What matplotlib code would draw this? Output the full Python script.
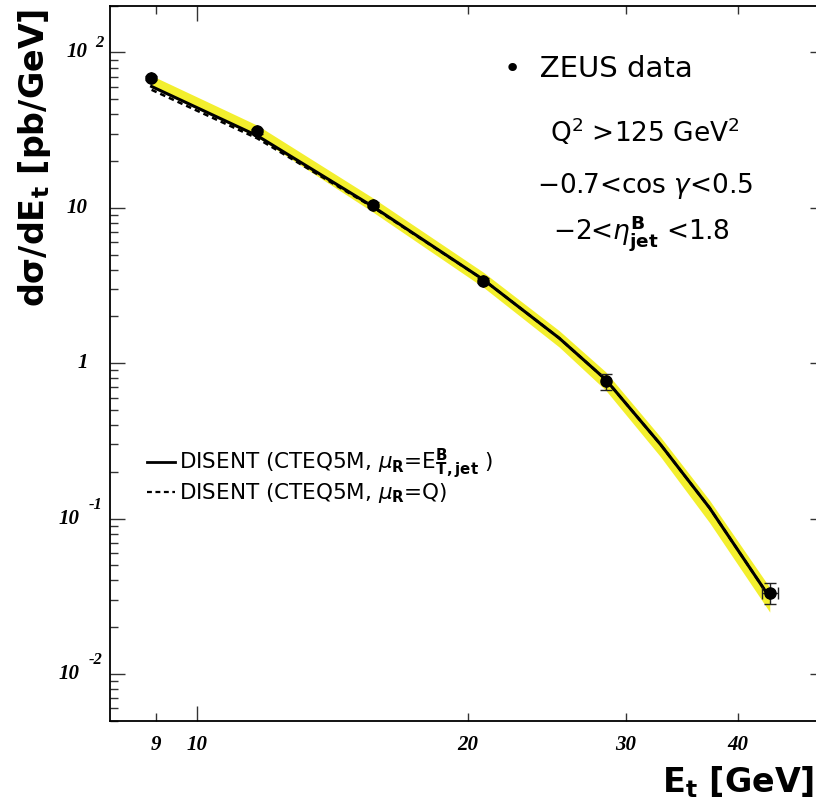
import numpy as np
import matplotlib
matplotlib.use("Agg")
import matplotlib.pyplot as plt
from matplotlib.ticker import FixedLocator, NullFormatter, FixedFormatter

# ---------------- data ----------------
et_data = [8.89, 11.67, 15.69, 20.83, 28.5, 43.4]
xsec_data = [68.8, 31.0, 10.5, 3.39, 0.766, 0.0333]
err_lo = [2.0, 1.0, 0.35, 0.12, 0.09, 0.0052]
err_hi = [2.0, 1.0, 0.35, 0.12, 0.09, 0.0054]
xerr_data = [0.0, 0.0, 0.0, 0.0, 0.0, 0.9]

theory_et = [8.9, 11.67, 15.69, 20.83, 25.3, 28.5, 32.8, 37.2, 43.4]
disent_etjet = [60.4, 29.1, 10.2, 3.45, 1.45, 0.785, 0.30, 0.117, 0.031]
disent_q = [57.5, 28.0, 10.1, 3.45, 1.45, 0.785, 0.30, 0.117, 0.031]
band_lo = [59.5, 28.5, 9.4, 3.08, 1.27, 0.67, 0.25, 0.094, 0.025]
band_hi = [71.0, 34.0, 11.6, 3.85, 1.62, 0.88, 0.335, 0.131, 0.036]

x_major = [10]
x_minor = [9, 20, 30, 40]
y_major = [0.01, 0.1, 1, 10, 100]
y_major_labels = [("10", "-2"), ("10", "-1"), ("1", ""), ("10", ""), ("10", "2")]

W, H = 816, 807
PT = 72 / 100  # points per pixel
fig = plt.figure(figsize=(W / 100, H / 100), dpi=100)
ax_l, ax_r, ax_t, ax_b = 110, 825, 5.7, 720.7
ax = fig.add_axes([ax_l / W, 1 - ax_b / H, (ax_r - ax_l) / W, (ax_b - ax_t) / H])
ax.set_xscale("log")
ax.set_yscale("log")
ax.set_xlim(8.0, 50.0)
ax.set_ylim(0.005, 200)

yellow = "#f3ef2e"
ax.fill_between(theory_et, band_lo, band_hi, color=yellow, lw=0, zorder=1)
ax.plot(theory_et, disent_q, color="black", lw=1.8, ls=(0, (2.2, 1.6)), zorder=2)
ax.plot(theory_et, disent_etjet, color="black", lw=2.2, zorder=3)
ax.errorbar(et_data, xsec_data, yerr=[err_lo, err_hi], xerr=xerr_data, fmt="o",
            color="black", ms=8, ecolor="#222222", elinewidth=1.0, capsize=4,
            capthick=1.0, zorder=4)

# ticks
ax.xaxis.set_major_locator(FixedLocator(x_major))
ax.xaxis.set_minor_locator(FixedLocator(x_minor))
ax.xaxis.set_major_formatter(FixedFormatter([str(v) for v in x_major]))
ax.xaxis.set_minor_formatter(FixedFormatter([str(v) for v in x_minor]))
ax.yaxis.set_major_locator(FixedLocator(y_major))
ax.yaxis.set_minor_locator(matplotlib.ticker.LogLocator(base=10, subs=np.arange(2, 10)))
ax.yaxis.set_major_formatter(NullFormatter())
ax.yaxis.set_minor_formatter(NullFormatter())
for axis in ("x", "y"):
    ax.tick_params(axis=axis, which="major", direction="in", length=15 * PT, width=1.0,
                   color="#333333", top=True, right=True)
    ax.tick_params(axis=axis, which="minor", direction="in", length=8 * PT, width=1.0,
                   color="#333333", top=True, right=True)
tick_font = dict(family="Liberation Serif", weight="bold", style="italic", size=15)
ax.tick_params(axis="x", which="both", pad=10)
for lbl in ax.get_xticklabels(which="both"):
    lbl.set_fontproperties(matplotlib.font_manager.FontProperties(**tick_font))

# y tick labels drawn as base + exponent
trans = matplotlib.transforms.blended_transform_factory(fig.transFigure, ax.transData)
for val, (base, expo) in zip(y_major, y_major_labels):
    if expo:
        xb = 80 / W if expo.startswith("-") else 88 / W
        ax.text(xb, val, base, transform=trans, ha="right", va="center", **tick_font)
        ax.annotate(expo, xy=(xb, val), xycoords=trans,
                    xytext=(6 if expo.startswith("-") else 5, 10 if expo.startswith("-") else 7),
                    textcoords="offset points", ha="left", va="center",
                    family="Liberation Serif", weight="bold", style="italic", size=12)
    else:
        ax.text(88 / W, val, base, transform=trans, ha="right", va="center", **tick_font)

for s in ax.spines.values():
    s.set_linewidth(1.3)

# axis titles
fig.text(35 / W, 1 - 158 / H, "dσ/dE$_{\\mathbf{t}}$ [pb/GeV]", rotation=90,
         ha="center", va="center", fontsize=24, fontweight="bold",
         family="DejaVu Sans", math_fontfamily="dejavusans")
fig.text(814 / W, 1 - 782 / H, "E$_{\\mathbf{t}}$ [GeV]", ha="right", va="center",
         fontsize=24, fontweight="bold", family="DejaVu Sans",
         math_fontfamily="dejavusans")

# annotations
txt = dict(family="DejaVu Sans", color="black", math_fontfamily="dejavusans")
fig.text(504 / W, 1 - 69 / H, "•  ZEUS data", ha="left", va="center", fontsize=21, **txt)
fig.text(645 / W, 1 - 132 / H, "Q$^{2}$ >125 GeV$^{2}$", ha="center", va="center",
         fontsize=19, **txt)
fig.text(645 / W, 1 - 186 / H, "−0.7<cos $\\gamma$<0.5", ha="center", va="center",
         fontsize=19, **txt)
fig.text(641 / W, 1 - 233 / H, "−2<$\\eta^{\\mathbf{B}}_{\\mathbf{jet}}$ <1.8", ha="center",
         va="center", fontsize=19, **txt)

# legend
leg_font = matplotlib.font_manager.FontProperties(family="DejaVu Sans", size=15.5,
                                                  math_fontfamily="dejavusans")
h1, = ax.plot([], [], color="black", lw=2.0)
h2, = ax.plot([], [], color="black", lw=1.6, ls=(0, (2.2, 1.6)))
leg = ax.legend([h1, h2],
                ["DISENT (CTEQ5M, $\\mu_{\\mathbf{R}}$=E$^{\\mathbf{B}}_{\\mathbf{T,jet}}$ )",
                 "DISENT (CTEQ5M, $\\mu_{\\mathbf{R}}$=Q)"],
                loc="upper left", bbox_to_anchor=((138 - ax_l) / (ax_r - ax_l),
                                                  1 - (438 - ax_t) / (ax_b - ax_t)),
                frameon=False, prop=leg_font, handlelength=1.3, handletextpad=0.2,
                labelspacing=0.02, borderaxespad=0)

fig.savefig("out.png", dpi=100)
